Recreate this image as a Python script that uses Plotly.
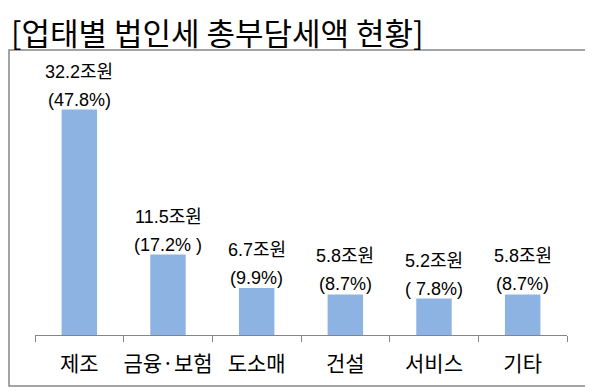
import plotly.graph_objects as go

categories = ["제조", "금융·보험", "도소매", "건설", "서비스", "기타"]
values = [32.2, 11.5, 6.7, 5.8, 5.2, 5.8]
value_labels = ["32.2조원", "11.5조원", "6.7조원", "5.8조원", "5.2조원", "5.8조원"]
pct_labels = ["(47.8%)", "(17.2% )", "(9.9%)", "(8.7%)", "( 7.8%)", "(8.7%)"]
title_text = "[업태별 법인세 총부담세액 현황]"

# page body has an 8px default margin; work in screen pixels and shift
OFF = 8
W, H = 593 - OFF, 391 - OFF
ML, MR, MT, MB = 35 - OFF, 593 - 567, 55 - OFF, 391 - 335
FONT = "Liberation Sans, Arial, Noto Sans CJK KR, sans-serif"
KFONT = "Noto Sans CJK KR, Liberation Sans, sans-serif"

pw = W - ML - MR
ph = H - MT - MB


def px_x(x):
    return (x - OFF - ML) / pw


def px_y(y):
    return (H - MB - (y - OFF)) / ph


fig = go.Figure()
fig.add_trace(go.Bar(
    x=categories, y=values,
    marker=dict(color="#8DB3E2", line=dict(width=0)),
    width=0.4,
    hoverinfo="skip",
))

annotations = []
for c, v, t1, t2 in zip(categories, values, value_labels, pct_labels):
    annotations.append(dict(x=c, y=v, xref="x", yref="y", text=t1, showarrow=False,
                            yanchor="middle", yshift=38,
                            font=dict(family=FONT, size=18, color="#000000")))
    annotations.append(dict(x=c, y=v, xref="x", yref="y", text=t2, showarrow=False,
                            yanchor="middle", yshift=10,
                            font=dict(family=FONT, size=18, color="#000000")))
annotations.append(dict(x=px_x(9), y=px_y(31), xref="paper", yref="paper",
                        text=title_text, showarrow=False, xanchor="left", yanchor="middle",
                        font=dict(family=KFONT, size=31, color="#000000")))

shapes = [dict(type="rect", xref="paper", yref="paper",
               x0=px_x(9), x1=px_x(588), y0=px_y(386), y1=px_y(50),
               line=dict(color="#868686", width=1.5), fillcolor="rgba(0,0,0,0)", layer="below")]

fig.update_layout(
    width=W, height=H,
    margin=dict(l=ML, r=MR, t=MT, b=MB, autoexpand=False),
    paper_bgcolor="white", plot_bgcolor="rgba(0,0,0,0)",
    showlegend=False,
    annotations=annotations,
    shapes=shapes,
    bargap=0.6,
)
fig.update_xaxes(
    type="category", showline=True, linecolor="#868686", linewidth=1,
    ticks="outside", tickson="boundaries", ticklen=6, tickcolor="#868686",
    tickangle=0, automargin=False,
    tickfont=dict(family=KFONT, size=21, color="#000000"),
    ticklabelstandoff=10, showgrid=False, zeroline=False,
)
fig.update_yaxes(range=[0, 40], visible=False, showgrid=False, zeroline=False)

fig.write_html("out.html")
